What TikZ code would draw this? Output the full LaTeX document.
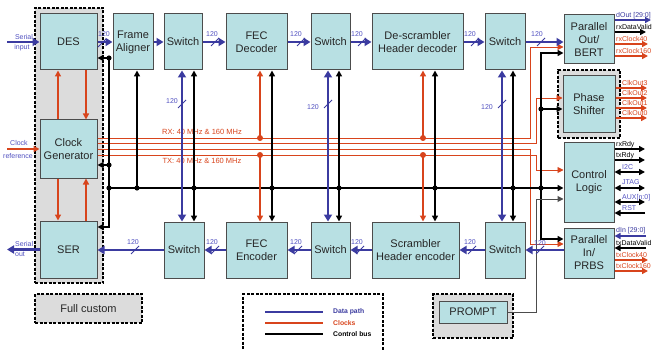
\documentclass[tikz,border=0pt]{standalone}
\usepackage{fontspec}
\setmainfont{Liberation Sans}
\usetikzlibrary{arrows.meta,calc}
\definecolor{boxc}{HTML}{B8E0E3}
\definecolor{grayc}{HTML}{DCDCDC}
\definecolor{dblue}{HTML}{3B3BA0}
\definecolor{lblue}{HTML}{5050C0}
\definecolor{cred}{HTML}{D8441C}
\tikzset{
 blk/.style={draw=black!70, line width=1pt, fill=boxc, align=center, inner sep=0pt, font=\fontsize{11}{13}\selectfont, text=black!85},
 grp/.style={draw=black, dash pattern=on 3pt off 1.5pt, line width=1.1pt, fill=grayc, inner sep=0pt},
 data/.style={draw=dblue, line width=2.6pt},
 ctl/.style={draw=black, line width=1.5pt},
 clkth/.style={draw=cred, line width=1.8pt},
 clkt/.style={draw=cred, line width=0.9pt},
 oline/.style={line width=1.7pt},
 pline/.style={draw=black!70, line width=1pt},
 dtip/.style={-{Triangle[length=7pt,width=8pt]}},
 dtips/.style={{Triangle[length=7pt,width=8pt]}-{Triangle[length=7pt,width=8pt]}},
 ctip/.style={-{Triangle[length=6pt,width=6pt]}},
 ctips/.style={{Triangle[length=6pt,width=6pt]}-{Triangle[length=6pt,width=6pt]}},
 wl/.style={font=\fontsize{7}{8}\selectfont, text=lblue, inner sep=0pt},
 sl/.style={font=\fontsize{7}{8}\selectfont, text=lblue, inner sep=0pt},
 ol/.style={font=\fontsize{7}{8}\selectfont, inner sep=0pt, anchor=base west},
 clab/.style={font=\fontsize{7.5}{9}\selectfont, text=cred, inner sep=0pt},
 lgl/.style={font=\bfseries\fontsize{6.8}{8}\selectfont, inner sep=0pt, anchor=west},
 slash/.pic={\draw[dblue,line width=0.9pt] (-4,4) -- (4,-4);}
}
\newcommand{\bwmark}[5]{\pic at (#2,#3) {slash}; \node[wl] (#1) at (#4,#5) {120};}
\begin{document}
\begin{tikzpicture}[x=1pt,y=-1pt]
\useasboundingbox (0,0) rectangle (653,350);
% groups
\node[grp, minimum width=68pt, minimum height=275pt] (fcg) at (69,145.5) {};
\node[grp, minimum width=62pt, minimum height=68pt] (psg) at (589,104) {};
\node[grp, minimum width=80pt, minimum height=44pt] (prg) at (473,316) {};
\node[grp, fill=white, minimum width=140pt, minimum height=64pt] (leg) at (313,326) {};
\node[grp, minimum width=107pt, minimum height=29pt, font=\fontsize{11}{13}\selectfont, text=black!85] (fcl) at (88.5,308.5) {Full custom};
% blocks
\node[blk, minimum width=57pt, minimum height=56pt] (des) at (68.5,42) {DES};
\node[blk, minimum width=57pt, minimum height=58pt] (clk) at (68.5,149) {Clock\\Generator};
\node[blk, minimum width=57pt, minimum height=57pt] (ser) at (68.5,249.5) {SER};
\node[blk, minimum width=40pt, minimum height=56pt] (fa) at (133,42) {Frame\\Aligner};
\node[blk, minimum width=38pt, minimum height=56pt] (sw1) at (183,42) {Switch};
\node[blk, minimum width=61pt, minimum height=56pt] (fecd) at (256.5,42) {FEC\\Decoder};
\node[blk, minimum width=39pt, minimum height=56pt] (sw2) at (330.5,42) {Switch};
\node[blk, minimum width=91pt, minimum height=56pt] (desc) at (417.5,42) {De-scrambler\\Header decoder};
\node[blk, minimum width=40pt, minimum height=56pt] (sw3) at (505,42) {Switch};
\node[blk, minimum width=50pt, minimum height=49pt] (pout) at (589,39.5) {Parallel\\Out/\\BERT};
\node[blk, minimum width=52pt, minimum height=57pt] (phase) at (589,104.5) {Phase\\Shifter};
\node[blk, minimum width=50pt, minimum height=79pt] (ctrl) at (589,182.5) {Control\\Logic};
\node[blk, minimum width=50pt, minimum height=50pt] (pin) at (589,253) {Parallel\\In/\\PRBS};
\node[blk, minimum width=40pt, minimum height=56pt] (swbl) at (184,250) {Switch};
\node[blk, minimum width=61pt, minimum height=56pt] (fece) at (256.5,250) {FEC\\Encoder};
\node[blk, minimum width=39pt, minimum height=56pt] (swbm) at (330.5,250) {Switch};
\node[blk, minimum width=87pt, minimum height=56pt] (scr) at (415.5,250) {Scrambler\\Header encoder};
\node[blk, minimum width=40pt, minimum height=56pt] (swbr) at (505,250) {Switch};
\node[blk, minimum width=68pt, minimum height=22pt] (prompt) at (473,312) {PROMPT};
% coordinates
\coordinate (vk0) at (137,0);
\coordinate (vb1) at (182,0); \coordinate (vk1) at (194,0);
\coordinate (vr1) at (260,0); \coordinate (vk2) at (272,0);
\coordinate (vb2) at (328,0); \coordinate (vk3) at (339,0);
\coordinate (vr2) at (423,0); \coordinate (vk4) at (435,0);
\coordinate (vb3) at (502,0); \coordinate (vk5) at (513,0);
\coordinate (rx) at (0,138); \coordinate (tx) at (0,155);
\coordinate (busL) at (109,188);
\coordinate (lc) at (109,165); \coordinate (ld) at (109,58); \coordinate (ls) at (109,227);
\coordinate (rj) at (541,188); \coordinate (rp) at (541,109);
\coordinate (c1) at (530,138); \coordinate (c2) at (536,143);
\coordinate (c3) at (530,149); \coordinate (c4) at (536,155);
\coordinate (pc) at (536,199);
\coordinate (sin) at (7,42); \coordinate (sout) at (7,249.5); \coordinate (cref) at (7,149);
% clock lines
\draw[clkt,ctip] (clk.east |- c1) -- (c1) |- ($(pout.west)+(0,7.5)$);
\draw[clkt,ctip] (clk.east |- c2) -- (c2) |- ($(phase.west)+(0,-6.5)$);
\draw[clkt,ctip] (clk.east |- c3) -- (c3) |- ($(pin.west)+(0,-9)$);
\draw[clkt,ctip] (clk.east |- c4) -- (c4) |- ($(ctrl.west)+(0,-12.5)$);
\node[clab] (trx) at (202,131.5) {RX: 40 MHz \& 160 MHz};
\node[clab] (ttx) at (202,160.5) {TX: 40 MHz \& 160 MHz};
% control bus
\draw[ctl,ctip] (busL) -- (busL -| ctrl.west);
\draw[ctl,ctip] (busL) -- (ld) -- (ld -| des.east);
\draw[ctl,ctip] (busL) -- (ls) -- (ls -| ser.east);
\draw[ctl,ctip] (lc) -- (lc -| clk.east);
\draw[ctl,ctip] (busL -| vk0) -- (fa.south -| vk0);
\draw[ctl,ctips] (sw1.south -| vk1) -- (swbl.north -| vk1);
\draw[ctl,ctips] (fecd.south -| vk2) -- (fece.north -| vk2);
\draw[ctl,ctips] (sw2.south -| vk3) -- (swbm.north -| vk3);
\draw[ctl,ctips] (desc.south -| vk4) -- (scr.north -| vk4);
\draw[ctl,ctips] (sw3.south -| vk5) -- (swbr.north -| vk5);
\draw[ctl,ctip] (rj) |- ($(pout.west)+(0,13.5)$);
\draw[ctl,ctip] (rj) |- ($(pin.west)+(0,-14)$);
\draw[ctl,ctip] (rp) -- (rp -| phase.west);
\draw[pline,ctip] (prompt.east) -| (pc) -- (pc -| ctrl.west);
\foreach \p in {busL, lc, ld, rj, rp} \fill (\p) circle (2.6);
\foreach \v in {vk0,vk1,vk2,vk3,vk4,vk5} \fill (busL -| \v) circle (2.6);
% red verticals
\draw[clkth,ctip] (rx -| vr1) -- (fecd.south -| vr1);
\draw[clkth,ctip] (tx -| vr1) -- (fece.north -| vr1);
\draw[clkth,ctip] (rx -| vr2) -- (desc.south -| vr2);
\draw[clkth,ctip] (tx -| vr2) -- (scr.north -| vr2);
\foreach \v in {vr1,vr2} {\fill[cred] (rx -| \v) circle (3); \fill[cred] (tx -| \v) circle (3);}
% left clocks
\draw[clkth,ctip] ($(clk.north)+(-10.5,0)$) -- ($(des.south)+(-10.5,0)$);
\draw[clkth,ctip] ($(des.south)+(17.5,0)$) -- ($(clk.north)+(17.5,0)$);
\draw[clkth,ctip] ($(clk.south)+(-10.5,0)$) -- ($(ser.north)+(-10.5,0)$);
\draw[clkth,ctip] ($(ser.north)+(17.5,0)$) -- ($(clk.south)+(17.5,0)$);
\draw[clkth,ctip] (cref) -- (clk.west);
\node[sl, anchor=base] (tcl) at (19,146) {Clock};
\node[sl, anchor=base] (tre) at (18,158) {reference};
% data path
\draw[data,dtip] (sin) -- (des.west);
\node[sl, anchor=base] (tsi1) at (24,40) {Serial};
\node[sl, anchor=base] (tsi2) at (22,50) {input};
\draw[data,dtip] (des) -- (fa);
\draw[data,dtip] (fa) -- (sw1);
\draw[data,dtip] (sw1) -- (fecd);
\draw[data,dtip] (fecd) -- (sw2);
\draw[data,dtip] (sw2) -- (desc);
\draw[data,dtip] (desc) -- (sw3);
\draw[data,dtip] (sw3.east) -- (sw3.east -| pout.west);
\draw[data,dtip] (swbr.east -| pin.west) -- (swbr.east);
\draw[data,dtip] (swbr) -- (scr);
\draw[data,dtip] (scr) -- (swbm);
\draw[data,dtip] (swbm) -- (fece);
\draw[data,dtip] (fece) -- (swbl);
\draw[data,dtip] (swbl.west) -- (swbl.west -| ser.east);
\draw[data,dtip] (ser.west) -- (sout);
\node[sl, anchor=base west] (tso1) at (15,246) {Serial};
\node[sl, anchor=base west] (tso2) at (15,256) {out};
\draw[data,dtips] (sw1.south -| vb1) -- (swbl.north -| vb1);
\draw[data,dtips] (sw2.south -| vb2) -- (swbm.north -| vb2);
\draw[data,dtips] (sw3.south -| vb3) -- (swbr.north -| vb3);
% bus widths
\bwmark{w1}{102}{43}{104}{34}
\bwmark{w2}{215}{42}{212}{34}
\bwmark{w3}{301}{42}{296}{34}
\bwmark{w4}{362}{42}{357}{34}
\bwmark{w5}{475}{42}{470}{34}
\bwmark{w6}{541}{42}{537}{34}
\bwmark{w7}{182}{104}{172}{101}
\bwmark{w8}{328}{104}{313}{107}
\bwmark{w9}{502}{104}{487}{107}
\bwmark{w10}{135}{250}{133}{242}
\bwmark{w11}{215}{250}{212}{242}
\bwmark{w12}{298}{250}{296}{242}
\bwmark{w13}{360}{250}{357}{242}
\bwmark{w14}{472}{250}{470}{242}
\bwmark{w15}{540}{250}{540}{243}
% Parallel Out outputs
\coordinate (e1) at (651,20); \coordinate (e2) at (646,32);
\coordinate (e3) at (648,44); \coordinate (e4) at (648,56);
\draw[oline,draw=dblue,ctip] (pout.east |- e1) -- (e1);
\draw[oline,draw=black,ctip] (pout.east |- e2) -- (e2);
\draw[oline,draw=cred,ctip] (pout.east |- e3) -- (e3);
\draw[oline,draw=cred,ctip] (pout.east |- e4) -- (e4);
\node[ol,text=dblue] (te1) at (616,17.5) {dOut [29:0]};
\node[ol] (te2) at (616,29.5) {rxDataValid};
\node[ol,text=cred] (te3) at (616,41.5) {rxClock40};
\node[ol,text=cred] (te4) at (616,53.5) {rxClock160};
% Phase shifter outputs
\coordinate (k3) at (647,88); \coordinate (k2) at (647,98);
\coordinate (k1) at (647,108); \coordinate (k0) at (647,118);
\foreach \k/\n in {k3/3,k2/2,k1/1,k0/0} \draw[oline,draw=cred,ctip] (phase.east |- \k) -- (\k);
\node[ol,text=cred] (tk3) at (622,85.5) {ClkOut3};
\node[ol,text=cred] (tk2) at (622,95.5) {ClkOut2};
\node[ol,text=cred] (tk1) at (622,105.5) {ClkOut1};
\node[ol,text=cred] (tk0) at (622,115.5) {ClkOut0};
% Control logic I/O
\coordinate (g1) at (645,149); \coordinate (g2) at (645,160);
\coordinate (g3) at (645,172); \coordinate (g4) at (645,188);
\coordinate (g5) at (645,202); \coordinate (g6) at (645,213);
\draw[oline,ctip] (ctrl.east |- g1) -- (g1);
\draw[oline,ctip] (ctrl.east |- g2) -- (g2);
\draw[oline,ctips] (ctrl.east |- g3) -- (g3);
\draw[oline,ctips] (ctrl.east |- g4) -- (g4);
\draw[oline,ctips] (ctrl.east |- g5) -- (g5);
\draw[oline,ctip] (g6) -- (ctrl.east |- g6);
\node[ol] (tg1) at (616,146.5) {rxRdy};
\node[ol] (tg2) at (616,157.5) {txRdy};
\node[ol,text=lblue] (tg3) at (622,169.5) {I2C};
\node[ol,text=lblue] (tg4) at (622,184) {JTAG};
\node[ol,text=lblue] (tg5) at (622,199) {AUX[n:0]};
\node[ol,text=lblue] (tg6) at (622,210) {RST};
% Parallel In I/O
\coordinate (h1) at (646,236); \coordinate (h2) at (646,248);
\coordinate (h3) at (648,260); \coordinate (h4) at (648,271);
\draw[oline,draw=dblue,ctip] (h1) -- (pin.east |- h1);
\draw[oline,ctip] (h2) -- (pin.east |- h2);
\draw[oline,draw=cred,ctip] (pin.east |- h3) -- (h3);
\draw[oline,draw=cred,ctip] (pin.east |- h4) -- (h4);
\node[ol,text=dblue] (th1) at (616,232.5) {dIn [29:0]};
\node[ol] (th2) at (616,245.5) {txDataValid};
\node[ol,text=cred] (th3) at (616,257.5) {txClock40};
\node[ol,text=cred] (th4) at (616,268.5) {txClock160};
% legend
\coordinate (lga) at (265,312); \coordinate (lgb) at (323,312);
\coordinate (lgc) at (265,323); \coordinate (lgd) at (323,323);
\coordinate (lge) at (265,334); \coordinate (lgf) at (323,334);
\draw[draw=dblue,line width=2pt] (lga) -- (lgb);
\draw[draw=cred,line width=1.2pt] (lgc) -- (lgd);
\draw[draw=black,line width=1.2pt] (lge) -- (lgf);
\node[lgl,text=dblue] (tl1) at (333,312) {Data path};
\node[lgl,text=cred] (tl2) at (333,323) {Clocks};
\node[lgl] (tl3) at (333,334) {Control bus};
\end{tikzpicture}
\end{document}
